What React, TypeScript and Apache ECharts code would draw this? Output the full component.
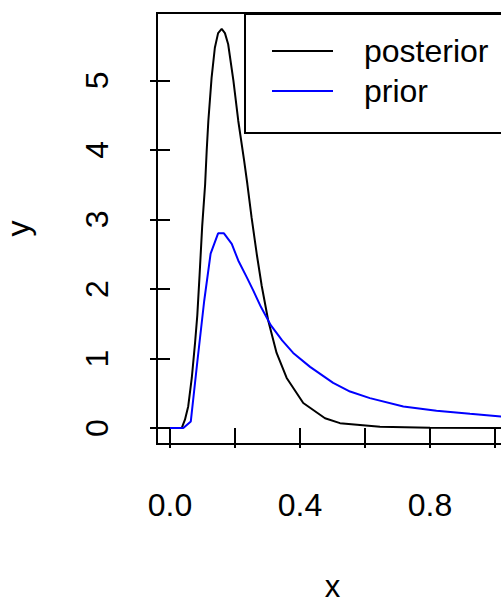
import { useEffect, useRef } from "react";
import * as echarts from "echarts";

const postX = [0, 0.036, 0.046, 0.056, 0.067, 0.077, 0.084, 0.091, 0.099, 0.108, 0.113, 0.118, 0.128, 0.138, 0.148, 0.159, 0.169, 0.179, 0.195, 0.21, 0.228, 0.238, 0.251, 0.267, 0.282, 0.302, 0.328, 0.359, 0.41, 0.477, 0.523, 0.646, 0.8, 1.04];
const postY = [0, 0, 0.12, 0.31, 0.72, 1.22, 1.62, 2.2, 2.9, 3.5, 4.0, 4.42, 5.04, 5.47, 5.68, 5.74, 5.68, 5.52, 5.0, 4.42, 3.85, 3.51, 3.03, 2.5, 2.05, 1.55, 1.08, 0.72, 0.36, 0.14, 0.07, 0.02, 0.005, 0];

const priorX = [0, 0.041, 0.064, 0.084, 0.105, 0.125, 0.148, 0.166, 0.19, 0.21, 0.236, 0.256, 0.28, 0.31, 0.345, 0.379, 0.431, 0.502, 0.554, 0.615, 0.718, 0.82, 0.923, 1.018, 1.04];
const priorY = [0, 0, 0.095, 0.95, 1.82, 2.51, 2.8, 2.8, 2.65, 2.41, 2.17, 1.98, 1.74, 1.48, 1.26, 1.08, 0.88, 0.65, 0.525, 0.43, 0.31, 0.25, 0.205, 0.166, 0.158];

const xTicks = [0, 0.2, 0.4, 0.6, 0.8, 1.0];
const xTickLabels = [0, 0.4, 0.8];
const yTicks = [0, 1, 2, 3, 4, 5];
const seriesNames = ["posterior", "prior"];

const FONT = "Liberation Sans, Arial, Helvetica, sans-serif";

export default function App() {
  const ref = useRef<HTMLDivElement>(null);
  useEffect(() => {
    if (!ref.current) return;
    const chart = echarts.init(ref.current, undefined, { renderer: "svg" });
    const yMax = 5.74;
    const yPad = 0.04 * yMax;
    chart.setOption({
      animation: false,
      backgroundColor: "#ffffff",
      grid: {
        left: 157,
        top: 13,
        width: 351,
        height: 431,
        show: true,
        borderColor: "#000",
        borderWidth: 2,
        backgroundColor: "transparent",
        containLabel: false,
        outerBoundsMode: "none",
      },
      graphic: [
        {
          type: "rect",
          left: 244,
          top: 13,
          shape: { x: 0, y: 0, width: 264, height: 119 },
          style: { fill: "transparent", stroke: "#000", lineWidth: 2 },
          z: 10,
        },
      ],
      legend: {
        data: seriesNames,
        orient: "vertical",
        left: 244,
        top: 13,
        padding: [22, 0, 24, 28],
        itemGap: 8,
        itemWidth: 61,
        itemHeight: 2,
        icon: "rect",
        borderWidth: 0,
        backgroundColor: "transparent",
        textStyle: { fontSize: 32, color: "#000", fontFamily: FONT, padding: [0, 0, 0, 26] },
      },
      xAxis: {
        type: "value",
        min: -0.04,
        max: 1.04,
        axisLine: { show: false },
        splitLine: { show: false },
        axisTick: { show: true, customValues: xTicks, length: 20, lineStyle: { color: "#000", width: 2 } },
        axisLabel: {
          customValues: xTickLabels,
          formatter: (v: number) => v.toFixed(1),
          fontSize: 32,
          fontFamily: FONT,
          color: "#000",
          margin: 45,
        },
        name: "x",
        nameLocation: "middle",
        nameGap: 129,
        nameTextStyle: { fontSize: 31, lineHeight: 26, fontFamily: FONT, color: "#000" },
      },
      yAxis: {
        type: "value",
        min: -yPad,
        max: yMax + yPad,
        axisLine: { show: false },
        splitLine: { show: false },
        axisTick: { show: true, customValues: yTicks, length: 20, lineStyle: { color: "#000", width: 2 } },
        axisLabel: {
          customValues: yTicks,
          formatter: (v: number) => String(v),
          rotate: 90,
          align: "center",
          verticalAlign: "bottom",
          fontSize: 32,
          fontFamily: FONT,
          color: "#000",
          margin: 44,
        },
        name: "y",
        nameLocation: "middle",
        nameRotate: 90,
        nameGap: 123,
        nameTextStyle: { fontSize: 32, fontFamily: FONT, color: "#000" },
      },
      series: [
        {
          name: seriesNames[0],
          type: "line",
          data: postX.map((x, i) => [x, postY[i]]),
          symbol: "none",
          showSymbol: false,
          color: "#000",
          lineStyle: { color: "#000", width: 2 },
        },
        {
          name: seriesNames[1],
          type: "line",
          data: priorX.map((x, i) => [x, priorY[i]]),
          symbol: "none",
          showSymbol: false,
          color: "#0000ff",
          lineStyle: { color: "#0000ff", width: 2 },
        },
      ],
    });
    return () => chart.dispose();
  }, []);
  return (
    <div
      ref={ref}
      style={{ position: "absolute", left: 0, top: 0, width: 501, height: 603, background: "#fff" }}
    />
  );
}
